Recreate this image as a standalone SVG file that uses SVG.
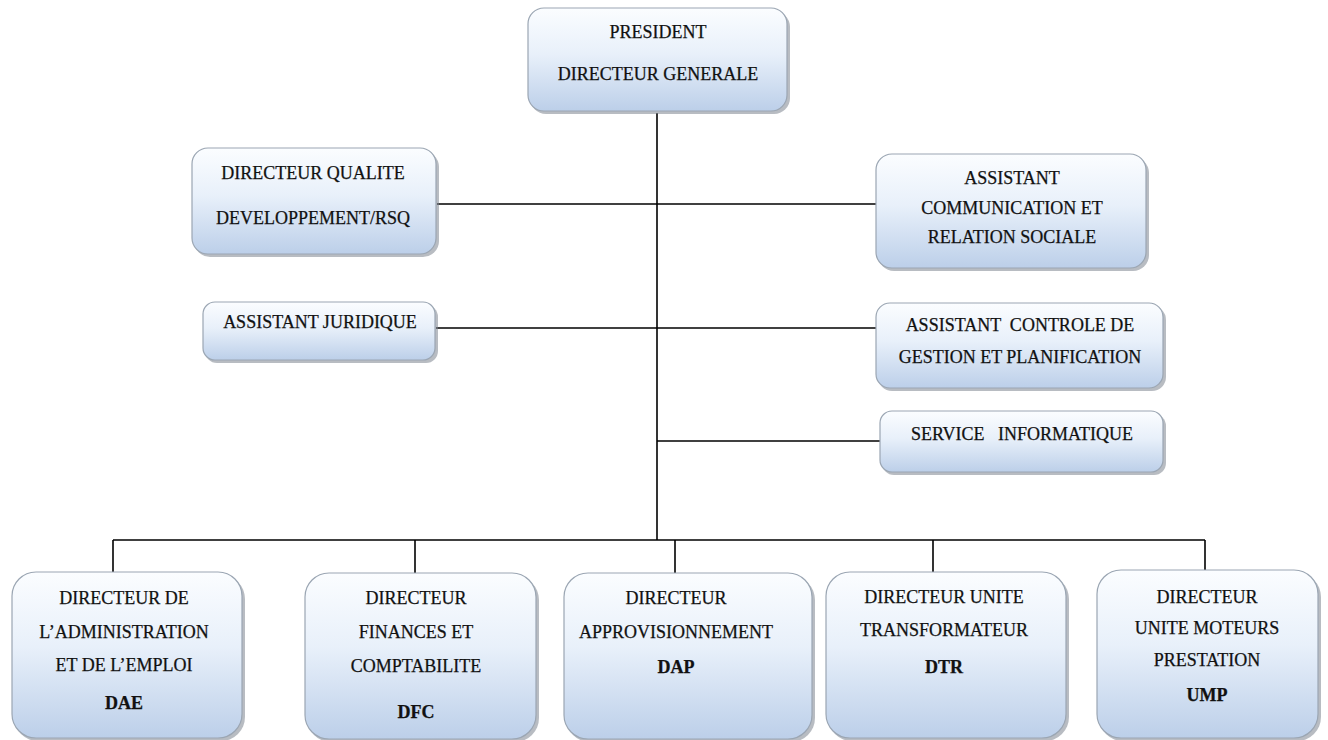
<svg xmlns="http://www.w3.org/2000/svg" width="1328" height="740" viewBox="0 0 1328 740">
<defs>
<linearGradient id="g" x1="0" y1="0" x2="0" y2="1">
<stop offset="0" stop-color="#fbfdff"/>
<stop offset="0.45" stop-color="#e8f0fa"/>
<stop offset="1" stop-color="#bccfe9"/>
</linearGradient>
</defs>
<style>
.box{fill:url(#g);stroke:#9ba6b3;stroke-width:1.2}
.sh{fill:#7d8590;opacity:0.55}
text{font-family:'Liberation Serif','DejaVu Serif',serif;font-size:18px;fill:#111;stroke:#111;stroke-width:0.25;text-anchor:middle}
.b{font-weight:bold}
.ln{stroke:#000;stroke-width:1.6;fill:none}
</style>
<rect width="1328" height="740" fill="#fff"/>
<g id="connectors">
<line class="ln" x1="657" y1="113" x2="657" y2="540"/>
<line class="ln" x1="437" y1="204" x2="876" y2="204"/>
<line class="ln" x1="436" y1="328" x2="876" y2="328"/>
<line class="ln" x1="657" y1="441" x2="880" y2="441"/>
<line class="ln" x1="113" y1="540" x2="1205" y2="540"/>
<line class="ln" x1="113" y1="540" x2="113" y2="572"/>
<line class="ln" x1="415" y1="540" x2="415" y2="573"/>
<line class="ln" x1="675" y1="540" x2="675" y2="573"/>
<line class="ln" x1="933" y1="540" x2="933" y2="572"/>
<line class="ln" x1="1205" y1="540" x2="1205" y2="570"/>
</g>
<g id="president">
<rect class="sh" x="530" y="11" width="260" height="103" rx="16"/>
<rect class="box" x="528" y="8" width="259" height="103" rx="16"/>
<text x="658" y="38">PRESIDENT</text>
<text x="658" y="80">DIRECTEUR GENERALE</text>
</g>
<g id="dir-qualite">
<rect class="sh" x="194" y="151" width="245" height="106" rx="16"/>
<rect class="box" x="192" y="148" width="244" height="106" rx="16"/>
<text x="313" y="179">DIRECTEUR QUALITE</text>
<text x="313" y="224">DEVELOPPEMENT/RSQ</text>
</g>
<g id="ass-communication">
<rect class="sh" x="878" y="157" width="271" height="114" rx="16"/>
<rect class="box" x="876" y="154" width="270" height="114" rx="16"/>
<text x="1012" y="184">ASSISTANT</text>
<text x="1012" y="214">COMMUNICATION ET</text>
<text x="1012" y="243">RELATION SOCIALE</text>
</g>
<g id="ass-juridique">
<rect class="sh" x="205" y="305" width="233" height="58" rx="12"/>
<rect class="box" x="203" y="302" width="232" height="58" rx="12"/>
<text x="320" y="328">ASSISTANT JURIDIQUE</text>
</g>
<g id="ass-controle">
<rect class="sh" x="878" y="306" width="288" height="85" rx="14"/>
<rect class="box" x="876" y="303" width="287" height="85" rx="14"/>
<text x="1020" y="331" xml:space="preserve">ASSISTANT  CONTROLE DE</text>
<text x="1020" y="363">GESTION ET PLANIFICATION</text>
</g>
<g id="service-info">
<rect class="sh" x="882" y="414" width="284" height="61" rx="12"/>
<rect class="box" x="880" y="411" width="283" height="61" rx="12"/>
<text x="1022" y="440" xml:space="preserve">SERVICE   INFORMATIQUE</text>
</g>
<g id="dae">
<rect class="sh" x="14" y="575" width="231" height="166" rx="24"/>
<rect class="box" x="12" y="572" width="230" height="166" rx="24"/>
<text x="124" y="604">DIRECTEUR DE</text>
<text x="124" y="638">L’ADMINISTRATION</text>
<text x="124" y="671">ET DE L’EMPLOI</text>
<text class="b" x="124" y="709">DAE</text>
</g>
<g id="dfc">
<rect class="sh" x="307" y="576" width="232" height="166" rx="24"/>
<rect class="box" x="305" y="573" width="231" height="166" rx="24"/>
<text x="416" y="604">DIRECTEUR</text>
<text x="416" y="638">FINANCES ET</text>
<text x="416" y="672">COMPTABILITE</text>
<text class="b" x="416" y="718">DFC</text>
</g>
<g id="dap">
<rect class="sh" x="566" y="576" width="249" height="166" rx="24"/>
<rect class="box" x="564" y="573" width="248" height="166" rx="24"/>
<text x="676" y="604">DIRECTEUR</text>
<text x="676" y="638">APPROVISIONNEMENT</text>
<text class="b" x="676" y="673">DAP</text>
</g>
<g id="dtr">
<rect class="sh" x="828" y="575" width="241" height="166" rx="24"/>
<rect class="box" x="826" y="572" width="240" height="166" rx="24"/>
<text x="944" y="603">DIRECTEUR UNITE</text>
<text x="944" y="636">TRANSFORMATEUR</text>
<text class="b" x="944" y="673">DTR</text>
</g>
<g id="ump">
<rect class="sh" x="1099" y="573" width="222" height="168" rx="24"/>
<rect class="box" x="1097" y="570" width="221" height="168" rx="24"/>
<text x="1207" y="603">DIRECTEUR</text>
<text x="1207" y="634">UNITE MOTEURS</text>
<text x="1207" y="666">PRESTATION</text>
<text class="b" x="1207" y="701">UMP</text>
</g>
</svg>
